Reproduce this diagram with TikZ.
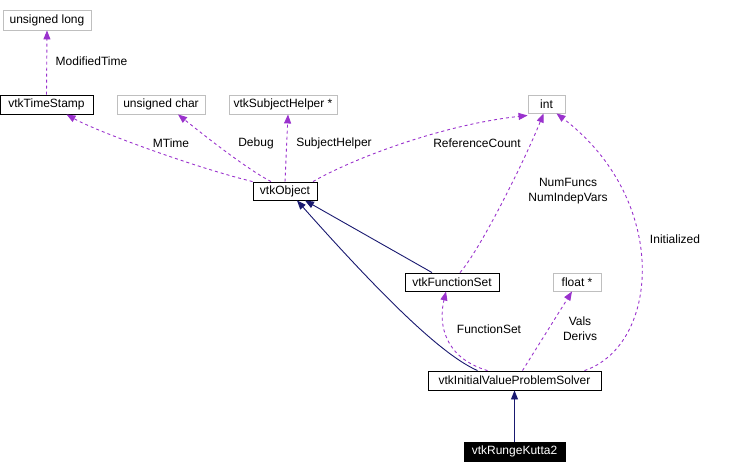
\documentclass[tikz,border=0pt]{standalone}
\usepackage{fontspec}
\setmainfont{Liberation Sans}
\usetikzlibrary{arrows.meta}
\definecolor{dep}{RGB}{154,50,205}
\definecolor{inh}{RGB}{25,25,112}
\definecolor{grayb}{RGB}{191,191,191}
\begin{document}
\begin{tikzpicture}[x=1pt,y=-1pt,
  font=\fontsize{12}{15}\selectfont,
  box/.style={draw=black,line width=0.9pt,inner sep=0pt,anchor=center},
  gbox/.style={draw=grayb,line width=0.9pt,inner sep=0pt,anchor=center},
  hbox/.style={draw=black,fill=black,text=white,line width=0.9pt,inner sep=0pt,anchor=center},
  depline/.style={draw=dep,line width=0.9pt,dash pattern=on 3pt off 3pt,-{Triangle[length=9pt,width=7pt,fill=dep]}},
  inhline/.style={draw=inh,line width=0.9pt,-{Triangle[length=9pt,width=7pt,fill=inh]}},
  lbl/.style={inner sep=0pt,align=center}]
\useasboundingbox (0,0) rectangle (749,472);
% nodes
\node[gbox,minimum width=88pt,minimum height=20pt] (ul) at (47,20) {unsigned long};
\node[box,minimum width=93pt,minimum height=19pt] (ts) at (46.5,104.5) {vtkTimeStamp};
\node[gbox,minimum width=88pt,minimum height=19pt] (uc) at (161,104.5) {unsigned char};
\node[gbox,minimum width=108pt,minimum height=19pt] (sh) at (283,104.5) {vtkSubjectHelper *};
\node[gbox,minimum width=37pt,minimum height=18pt] (int) at (546.5,104) {int};
\node[box,minimum width=64pt,minimum height=18pt] (obj) at (285,191) {vtkObject};
\node[box,minimum width=94pt,minimum height=18pt] (fs) at (452,282) {vtkFunctionSet};
\node[gbox,minimum width=48pt,minimum height=18pt] (fl) at (577,282) {float *};
\node[box,minimum width=173pt,minimum height=19pt] (ivp) at (514.5,380.5) {vtkInitialValueProblemSolver};
\node[hbox,minimum width=101pt,minimum height=19pt] (rk) at (514.5,451.5) {vtkRungeKutta2};
% dependency edges
\draw[depline] (ts.north) -- (ul.south);
\draw[depline] (obj.north west) .. controls (193,167) and (96,131) .. ([xshift=20pt]ts.south);
\draw[depline] ([xshift=-14pt]obj.north) .. controls (245,168) and (200,132) .. ([xshift=17pt]uc.south);
\draw[depline] (obj.north) -- ([xshift=5pt]sh.south);
\draw[depline] ([xshift=28pt]obj.north) .. controls (350,160) and (440,125) .. ([yshift=-2pt]int.south west);
\draw[depline] ([xshift=8pt]fs.north) .. controls (480,250) and (525,160) .. ([xshift=-3pt]int.south);
\draw[depline] ([xshift=70pt]ivp.north) .. controls (660,345) and (670,200) .. ([xshift=10pt]int.south);
\draw[depline] ([xshift=-27pt]ivp.north) .. controls (445,358) and (438,325) .. ([xshift=-6pt]fs.south);
\draw[depline] ([xshift=8pt]ivp.north) -- ([xshift=-5pt]fl.south);
% inheritance edges
\draw[inhline] ([xshift=-20pt]fs.north) -- ([xshift=20pt]obj.south);
\draw[inhline] ([xshift=-37pt]ivp.north) .. controls (447,357) and (397,313) .. ([xshift=12pt]obj.south);
\draw[inhline] (rk.north) -- (ivp.south);
% labels
\node[lbl] (lmt) at (91.5,61) {ModifiedTime};
\node[lbl] (lmtime) at (171,143) {MTime};
\node[lbl] (ldbg) at (256,143) {Debug};
\node[lbl] (lsh) at (334,143) {SubjectHelper};
\node[lbl] (lrc) at (477,143) {ReferenceCount};
\node[lbl] (lnf) at (568,191) {NumFuncs\\NumIndepVars};
\node[lbl] (lini) at (675,239) {Initialized};
\node[lbl] (lfs) at (489,329) {FunctionSet};
\node[lbl] (lvd) at (580,329) {Vals\\Derivs};
\end{tikzpicture}
\end{document}
